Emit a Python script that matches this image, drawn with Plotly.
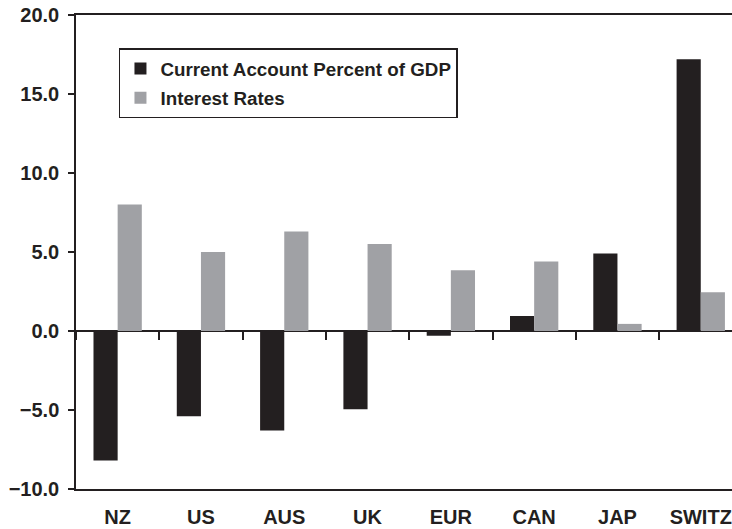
import plotly.graph_objects as go

categories = ["NZ", "US", "AUS", "UK", "EUR", "CAN", "JAP", "SWITZ"]
current_account = [-8.2, -5.4, -6.3, -4.95, -0.3, 0.95, 4.9, 17.2]
interest_rates = [8.0, 5.0, 6.3, 5.5, 3.85, 4.4, 0.45, 2.45]
y_tick_vals = [-10, -5, 0, 5, 10, 15, 20]

BLACK = "#231f20"
GRAY = "#a0a1a5"
FONT = "Liberation Sans, Arial, sans-serif"
X_RANGE = [-0.5, 7.375]

fig = go.Figure()
fig.add_trace(go.Bar(name="Current Account Percent of GDP", x=categories, y=current_account,
                     marker=dict(color=BLACK, line=dict(width=0)), legendgroup="a"))
fig.add_trace(go.Bar(name="Interest Rates", x=categories, y=interest_rates,
                     marker=dict(color=GRAY, line=dict(width=0)), legendgroup="b"))
# helper trace for the category tick marks on the zero line
fig.add_trace(go.Scatter(x=categories, y=[0] * len(categories), xaxis="x2", yaxis="y",
                         mode="markers", marker=dict(size=2, color="rgba(0,0,0,0)"),
                         showlegend=False, hoverinfo="skip"))

fig.update_layout(
    width=732, height=529,
    margin=dict(l=76, r=0, t=15, b=40, autoexpand=False),
    paper_bgcolor="white", plot_bgcolor="white",
    barmode="group", bargap=0.42, bargroupgap=0,
    font=dict(family=FONT, color=BLACK),
    showlegend=True,
    legend=dict(x=0.0655, y=0.93, xanchor="left", yanchor="top",
                bgcolor="white", bordercolor=BLACK, borderwidth=1.5,
                font=dict(size=18.8, weight=700, family=FONT, color=BLACK),
                tracegroupgap=2, itemwidth=30),
    xaxis=dict(type="category", range=X_RANGE, showline=True, linecolor=BLACK,
               linewidth=1.5, mirror=True, ticks="", showgrid=False, automargin=False,
               tickfont=dict(size=20, weight=700, family=FONT, color=BLACK),
               ticklabelstandoff=9),
    xaxis2=dict(type="category", overlaying="x", anchor="free", range=X_RANGE,
                position=1/3, side="bottom", showline=False, showgrid=False,
                zeroline=False, automargin=False, visible=True,
                ticks="outside", ticklen=8, tickwidth=1.5, tickcolor=BLACK,
                tickson="boundaries", showticklabels=False),
    yaxis=dict(range=[-10, 20], tickvals=y_tick_vals, tickformat=".1f",
               showline=True, linecolor=BLACK, linewidth=1.5, showgrid=False,
               automargin=False,
               ticks="outside", ticklen=6, tickwidth=1.5, tickcolor=BLACK,
               zeroline=True, zerolinecolor=BLACK, zerolinewidth=1.5,
               tickfont=dict(size=20, weight=700, family=FONT, color=BLACK),
               ticklabelstandoff=5),
)

fig.write_html("out.html", config={"displayModeBar": False},
               post_script="document.body.style.margin='0';")
